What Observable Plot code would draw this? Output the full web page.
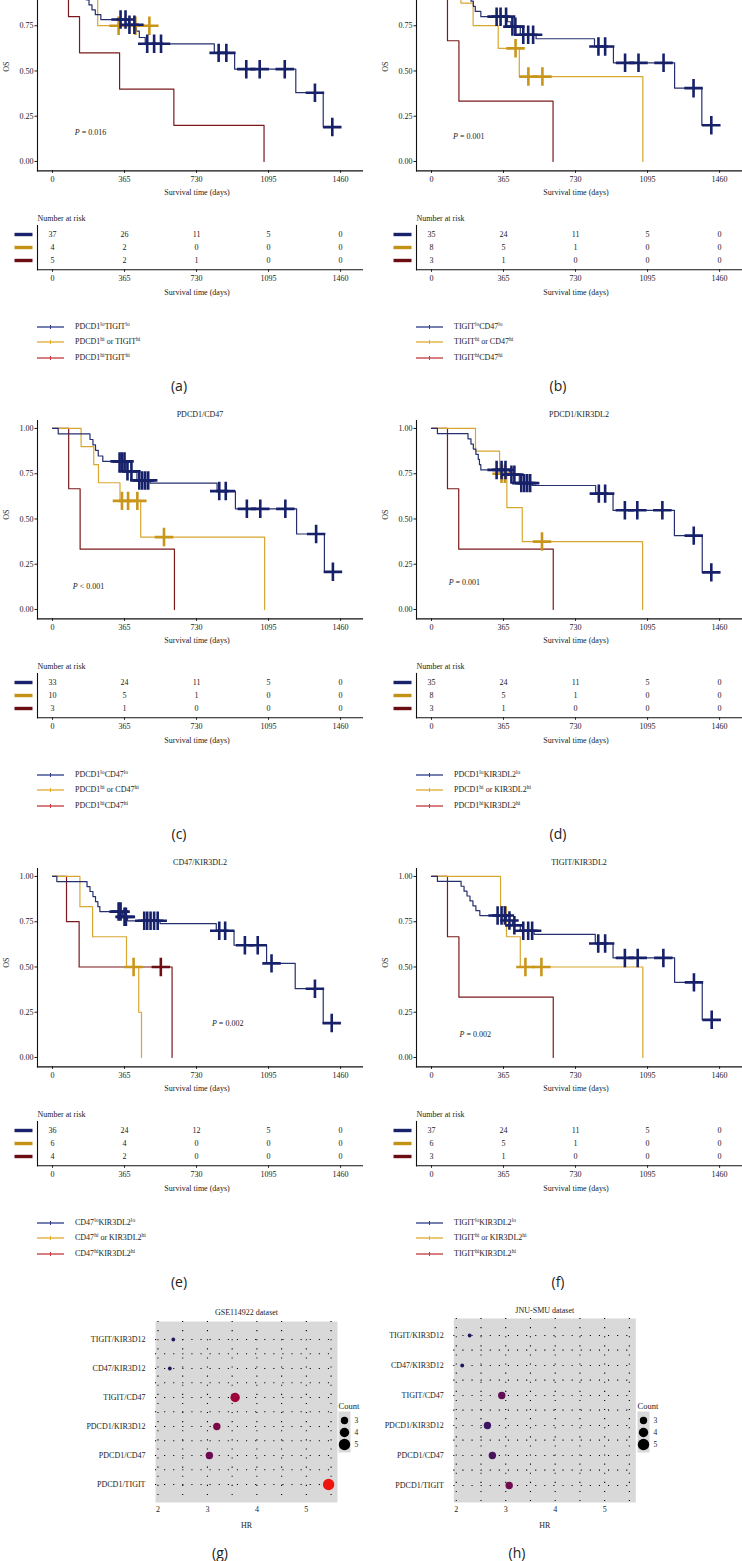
<!DOCTYPE html>
<html><head><meta charset="utf-8">
<script src="https://cdn.jsdelivr.net/npm/d3@7"></script>
<script src="https://cdn.jsdelivr.net/npm/@observablehq/plot@0.6"></script>
<style>
html,body{margin:0;padding:0;background:#fff;}
#page{position:relative;width:742px;height:1561px;overflow:hidden;background:#fff;font-family:"Liberation Serif","DejaVu Serif",serif;color:#222;}
.leg{position:absolute;font-size:8px;line-height:12px;height:12px;white-space:nowrap;color:#222;}
.leg svg{position:absolute;left:0;top:0;}
.leg span{position:absolute;left:38px;top:0;}
.leg sup{font-size:5.5px;vertical-align:3px;line-height:0;}
.cap{position:absolute;width:60px;text-align:center;font-family:"Open Sans",sans-serif;font-size:14px;line-height:20px;color:#222;}
svg{overflow:visible;}
</style></head>
<body><div id="page"></div>
<script>
// ---------- shared ticks ----------
const tickDays = [0, 365, 730, 1095, 1460];
const osTicks = [0, 0.25, 0.5, 0.75, 1];

// ---------- (a) PDCD1/TIGIT ----------
const aGenes = ["PDCD1", "TIGIT"];
const aLoEv = [[30,0.973],[150,0.946],[160,0.919],[172,0.892],[185,0.865],[200,0.838],[217,0.811],[245,0.784],[385,0.755],[425,0.72],[440,0.685],[470,0.65],[820,0.60],[923,0.51],[1233,0.38],[1372,0.19]];
const aLoCen = [345,370,390,415,480,515,550,842,881,982,1050,1177,1330,1418];
const aMixEv = [[229,0.75]];
const aMixCen = [335,420,491];
const aHiEv = [[81,0.8],[137,0.6],[340,0.4],[615,0.2],[1072,0]];
const aHiCen = [];
const aRisk = [[37,26,11,5,0],[4,2,0,0,0],[5,2,1,0,0]];
const aP = "= 0.016";

// ---------- (b) TIGIT/CD47 ----------
const bGenes = ["TIGIT", "CD47"];
const bLoEv = [[30,0.971],[160,0.943],[185,0.914],[200,0.886],[212,0.857],[222,0.829],[250,0.80],[385,0.772],[402,0.745],[450,0.70],[530,0.678],[826,0.635],[922,0.545],[1232,0.405],[1370,0.2]];
const bLoCen = [330,350,378,410,425,465,490,515,846,880,981,1049,1176,1328,1418];
const bMixEv = [[149,0.875],[211,0.75],[338,0.625],[445,0.469],[1071,0]];
const bMixCen = [426,491,562];
const bHiEv = [[81,0.667],[139,0.333],[616,0]];
const bHiCen = [];
const bRisk = [[35,24,11,5,0],[8,5,1,0,0],[3,1,0,0,0]];
const bP = "= 0.001";

// ---------- (c) PDCD1/CD47 ----------
const cGenes = ["PDCD1", "CD47"];
const cLoEv = [[29,0.970],[190,0.939],[205,0.909],[218,0.879],[232,0.848],[255,0.818],[372,0.763],[428,0.713],[495,0.698],[834,0.654],[927,0.556],[1237,0.417],[1378,0.208]];
const cLoCen = [340,352,365,380,400,440,455,470,485,845,878,985,1053,1180,1336,1421];
const cMixEv = [[145,0.9],[209,0.8],[233,0.7],[342,0.6],[447,0.4],[1075,0]];
const cMixCen = [352,383,430,565];
const cHiEv = [[82,0.667],[140,0.333],[618,0]];
const cHiCen = [];
const cRisk = [[33,24,11,5,0],[10,5,1,0,0],[3,1,0,0,0]];
const cP = "< 0.001";

// ---------- (d) PDCD1/KIR3DL2 ----------
const dGenes = ["PDCD1", "KIR3DL2"];
const dLoEv = [[30,0.971],[185,0.943],[200,0.914],[212,0.886],[225,0.857],[237,0.829],[243,0.80],[250,0.771],[395,0.745],[445,0.698],[510,0.685],[832,0.64],[920,0.548],[1231,0.408],[1372,0.205]];
const dLoCen = [330,355,375,405,420,455,470,485,500,848,880,980,1043,1170,1329,1418];
const dMixEv = [[223,0.875],[345,0.75],[382,0.5625],[460,0.375],[1070,0]];
const dMixCen = [355,372,560];
const dHiEv = [[81,0.667],[138,0.333],[617,0]];
const dHiCen = [];
const dRisk = [[35,24,11,5,0],[8,5,1,0,0],[3,1,0,0,0]];
const dP = "= 0.001";

// ---------- (e) CD47/KIR3DL2 ----------
const eGenes = ["CD47", "KIR3DL2"];
const eLoEv = [[22,0.972],[175,0.944],[190,0.917],[205,0.889],[218,0.861],[230,0.833],[240,0.806],[355,0.777],[380,0.755],[545,0.74],[830,0.70],[920,0.62],[1085,0.52],[1230,0.38],[1372,0.19]];
const eLoCen = [335,345,365,372,465,480,497,515,533,845,875,975,1040,1110,1330,1415];
const eMixEv = [[139,0.833],[203,0.667],[375,0.5],[437,0.25],[451,0]];
const eMixCen = [411];
const eHiEv = [[71,0.75],[135,0.5],[606,0]];
const eHiCen = [549];
const eRisk = [[36,24,12,5,0],[6,4,0,0,0],[4,2,0,0,0]];
const eP = "= 0.002";

// ---------- (f) TIGIT/KIR3DL2 ----------
const fGenes = ["TIGIT", "KIR3DL2"];
const fLoEv = [[30,0.973],[150,0.946],[165,0.919],[180,0.892],[195,0.865],[210,0.838],[225,0.811],[245,0.784],[380,0.757],[410,0.73],[450,0.70],[520,0.68],[830,0.63],[920,0.55],[1232,0.415],[1372,0.208]];
const fLoCen = [335,355,372,395,420,465,490,510,845,880,980,1045,1175,1330,1420];
const fMixEv = [[350,0.833],[380,0.667],[450,0.5],[1071,0]];
const fMixCen = [476,557];
const fHiEv = [[81,0.667],[139,0.333],[617,0]];
const fHiCen = [];
const fRisk = [[37,24,11,5,0],[6,5,1,0,0],[3,1,0,0,0]];
const fP = "= 0.002";

// ---------- (g), (h) HR dot plots ----------
const hrCats = ["TIGIT/KIR3D12","CD47/KIR3D12","TIGIT/CD47","PDCD1/KIR3D12","PDCD1/CD47","PDCD1/TIGIT"];
const gHR = [2.31, 2.24, 3.56, 3.19, 3.04, 5.45];
const gCount = [2, 2, 4, 3, 3, 5];
const hHR = [2.27, 2.12, 2.92, 2.63, 2.73, 3.07];
const hCount = [2, 2, 3, 3, 3, 3];
const countLegend = [3, 4, 5];

// ---------- styling ----------
const FONT = "Liberation Serif, DejaVu Serif, serif";
const AX = "#111";
const LINE = ["#27306f", "#d8a732", "#7a1a1c"];
const MARK = ["#17216a", "#c9961c", "#6d0f14"];
const SWATCH = ["#18236b", "#c39214", "#6b0d12"];
const LEGC = ["#2b3a87", "#e1a92e", "#c0393c"];
const X_DOMAIN = [-76, 1571];
const Y_DOMAIN = [-0.052, 1.044];
const page = document.getElementById("page");

function curvePoints(ev, cen) {
  const pts = [{t: 0, s: 1}];
  for (const [t, s] of ev) pts.push({t, s});
  const last = pts[pts.length - 1];
  const maxC = cen.length ? Math.max(...cen) : 0;
  if (maxC > last.t) pts.push({t: maxC, s: last.s});
  return pts;
}
function survAt(ev, t) { let s = 1; for (const [et, es] of ev) if (et <= t) s = es; return s; }

const barSymbol = {draw(ctx) { ctx.moveTo(-9, -1.7); ctx.lineTo(9, -1.7); ctx.lineTo(9, 1.7); ctx.lineTo(-9, 1.7); ctx.closePath(); }};

function place(el, x, y) { el.style.position = "absolute"; el.style.left = x + "px"; el.style.top = y + "px"; page.appendChild(el); }

function kmMain(P, W, inView) {
  const marks = [
    Plot.frame({anchor: "left", stroke: AX, strokeWidth: 1.1}),
    Plot.frame({anchor: "bottom", stroke: AX, strokeWidth: 1.1})
  ];
  const groups = [P.lo, P.mix, P.hi];
  [2, 1, 0].forEach(i => marks.push(Plot.line(curvePoints(groups[i][0], groups[i][1]), {x: "t", y: "s", curve: "step-after", stroke: LINE[i], strokeWidth: 1.2})));
  [2, 1, 0].forEach(i => {
    const ev = groups[i][0];
    const pts = groups[i][1].map(t => ({t, s: survAt(ev, t)}));
    marks.push(Plot.dot(pts, {x: "t", y: "s", symbol: "plus", r: 6, stroke: MARK[i], strokeWidth: 2.6}));
  });
  // the top row is cropped by the figure edge: its title and 1.00 tick fall outside the picture
  if (inView) marks.push(Plot.text([P.genes.join("/")], {text: d => d, frameAnchor: "top", dy: -9}));
  marks.push(Plot.text(["OS"], {text: d => d, frameAnchor: "left", rotate: -90, dx: -31}));
  marks.push(Plot.text(["Survival time (days)"], {text: d => d, frameAnchor: "bottom", dy: 23.6, dx: -3}));
  marks.push(Plot.text([P.pAt], {x: d => d[0], y: d => d[1], text: () => "P", fontStyle: "italic", textAnchor: "end"}));
  marks.push(Plot.text([P.pAt], {x: d => d[0], y: d => d[1], text: () => P.p, textAnchor: "start", dx: 2}));
  return Plot.plot({
    width: W, height: 250, marginLeft: 37, marginRight: W - 362, marginTop: 20, marginBottom: 31.6,
    style: {fontFamily: FONT, fontSize: "8px", color: "#222", background: "none", overflow: "visible"},
    x: {domain: X_DOMAIN, ticks: tickDays, tickFormat: "d", tickSize: 2.5, tickPadding: 3, label: null},
    y: {domain: Y_DOMAIN, ticks: inView ? osTicks : osTicks.slice(0, 4), tickFormat: d3.format(".2f"), tickSize: 2.5, tickPadding: 1.5, label: null},
    marks
  });
}

function kmRisk(P, W) {
  const cells = [];
  P.risk.forEach((row, g) => row.forEach((n, j) => cells.push({t: tickDays[j], g, n})));
  return Plot.plot({
    width: W, height: 95, marginLeft: 37, marginRight: W - 362, marginTop: 18, marginBottom: 32.7,
    style: {fontFamily: FONT, fontSize: "8px", color: "#222", background: "none", overflow: "visible"},
    x: {domain: X_DOMAIN, ticks: tickDays, tickFormat: "d", tickSize: 2.5, tickPadding: 3, label: null},
    y: {type: "point", domain: [0, 1, 2], padding: 0.62, axis: null},
    marks: [
      Plot.frame({anchor: "left", stroke: AX, strokeWidth: 1.1}),
      Plot.frame({anchor: "bottom", stroke: AX, strokeWidth: 1.1}),
      Plot.text(cells, {x: "t", y: "g", text: d => String(d.n)}),
      Plot.dot([0, 1, 2], {y: d => d, frameAnchor: "left", dx: -14, symbol: barSymbol, fill: d => SWATCH[d], stroke: "none"}),
      Plot.text(["Number at risk"], {text: d => d, frameAnchor: "top-left", dy: -10, textAnchor: "start"}),
      Plot.text(["Survival time (days)"], {text: d => d, frameAnchor: "bottom", dy: 24.7, dx: -3})
    ]
  });
}

function legendRow(html, color, x, y) {
  const d = document.createElement("div");
  d.className = "leg";
  d.innerHTML = `<svg width="28" height="12"><line x1="0" x2="27" y1="6" y2="6" stroke="${color}" stroke-width="1.3"/><line x1="13.5" x2="13.5" y1="4" y2="8" stroke="${color}" stroke-width="1"/></svg><span>${html}</span>`;
  place(d, x, y - 6);
}

const panelDefs = [
  {genes: aGenes, lo: [aLoEv, aLoCen], mix: [aMixEv, aMixCen], hi: [aHiEv, aHiCen], risk: aRisk, p: aP, pAt: [138, 0.162]},
  {genes: bGenes, lo: [bLoEv, bLoCen], mix: [bMixEv, bMixCen], hi: [bHiEv, bHiCen], risk: bRisk, p: bP, pAt: [134, 0.137]},
  {genes: cGenes, lo: [cLoEv, cLoCen], mix: [cMixEv, cMixCen], hi: [cHiEv, cHiCen], risk: cRisk, p: cP, pAt: [128, 0.13]},
  {genes: dGenes, lo: [dLoEv, dLoCen], mix: [dMixEv, dMixCen], hi: [dHiEv, dHiCen], risk: dRisk, p: dP, pAt: [112, 0.148]},
  {genes: eGenes, lo: [eLoEv, eLoCen], mix: [eMixEv, eMixCen], hi: [eHiEv, eHiCen], risk: eRisk, p: eP, pAt: [833, 0.187]},
  {genes: fGenes, lo: [fLoEv, fLoCen], mix: [fMixEv, fMixCen], hi: [fHiEv, fHiCen], risk: fRisk, p: fP, pAt: [167, 0.126]}
];
const capLetters = ["a", "b", "c", "d", "e", "f"];

panelDefs.forEach((P, k) => {
  const col = k % 2, row = Math.floor(k / 2);
  const ox = col ? 379 : 0, oy = -48 + 448 * row;
  const W = col ? 363 : 371;
  place(kmMain(P, W, row > 0), ox, oy);
  place(kmRisk(P, W), ox, oy + 255);
  const [g1, g2] = P.genes;
  const labels = [
    `${g1}<sup>lo</sup>${g2}<sup>lo</sup>`,
    `${g1}<sup>hi</sup> or ${g2}<sup>hi</sup>`,
    `${g1}<sup>hi</sup>${g2}<sup>hi</sup>`
  ];
  [375, 390, 405.5].forEach((ly, i) => legendRow(labels[i], LEGC[i], ox + 37, oy + ly));
  const cap = document.createElement("div");
  cap.className = "cap";
  cap.textContent = `(${capLetters[k]})`;
  place(cap, (col ? 558 : 179) - 30, oy + 434 - 10);
});

// ---------- HR dot plots ----------
const rScale = {type: "linear", domain: [2, 3, 5], range: [1.9, 3.7, 5.7]};
const colorScale = {type: "linear", domain: [2.1, 2.6, 3.0, 3.6, 5.45], range: ["#17175a", "#3a1562", "#680c50", "#a3023c", "#ee1510"], interpolate: "rgb", clamp: true};
const xGrid = [2, 2.5, 3, 3.5, 4, 4.5, 5, 5.5];

function hrPlot(title, hr, count, mL, mT, pad, titleDy) {
  const data = hrCats.map((c, i) => ({cat: c, hr: hr[i], count: count[i]}));
  const frameH = 240 - mT - 33;
  const step = frameH / (hrCats.length - 1 + 2 * pad);
  return Plot.plot({
    width: 371, height: 240, marginLeft: mL, marginRight: 371 - mL - 182, marginTop: mT, marginBottom: 33,
    style: {fontFamily: FONT, fontSize: "8px", color: "#222", background: "none", overflow: "visible"},
    x: {domain: [1.95, 5.63], ticks: [2, 3, 4, 5], tickFormat: "d", tickSize: 0, tickPadding: 4, label: null},
    y: {type: "point", domain: hrCats, padding: pad, tickSize: 0, tickPadding: 10, label: null},
    r: rScale, color: colorScale,
    marks: [
      Plot.frame({fill: "#d9d9d9", stroke: "none"}),
      Plot.ruleX(xGrid, {stroke: "#000", strokeWidth: 1.1, strokeDasharray: "1.1,8"}),
      Plot.ruleY(hrCats, {stroke: "#000", strokeWidth: 1.1, strokeDasharray: "1.1,8"}),
      Plot.ruleY(hrCats.slice(1), {stroke: "#000", strokeWidth: 1.1, strokeDasharray: "1.1,8", dy: -step / 2}),
      Plot.dot(data, {x: "hr", y: "cat", r: "count", fill: "hr", stroke: "none"}),
      Plot.text([title], {text: d => d, frameAnchor: "top", dy: titleDy}),
      Plot.text(["HR"], {text: d => d, frameAnchor: "bottom", dy: 25})
    ]
  });
}
function countLegendPlot() {
  return Plot.plot({
    width: 40, height: 62, marginLeft: 2, marginRight: 26, marginTop: 16, marginBottom: 5,
    style: {fontFamily: FONT, fontSize: "7.5px", color: "#222", background: "none", overflow: "visible"},
    x: {axis: null, domain: [0, 1]},
    y: {type: "point", domain: countLegend, padding: 0.58, axis: null},
    r: rScale,
    marks: [
      Plot.frame({fill: "#d9d9d9", stroke: "none"}),
      Plot.dot(countLegend, {y: d => d, r: d => d, fill: "#000"}),
      Plot.text(countLegend, {y: d => d, text: d => String(d), frameAnchor: "right", dx: 4, textAnchor: "start"}),
      Plot.text(["Count"], {text: d => d, frameAnchor: "top-left", dy: -9, textAnchor: "start", fontSize: "8.5px"})
    ]
  });
}
place(hrPlot("GSE114922 dataset", gHR, gCount, 155, 26, 0.56, -12), 0, 1295);
place(hrPlot("JNU-SMU dataset", hHR, hCount, 82.3, 23, 0.49, -11.3), 371, 1295);
place(countLegendPlot(), 336, 1395);
place(countLegendPlot(), 635, 1395);
[["g", 220], ["h", 517]].forEach(([l, cx]) => {
  const cap = document.createElement("div");
  cap.className = "cap";
  cap.textContent = `(${l})`;
  place(cap, cx - 30, 1553 - 10);
});
</script></body></html>
